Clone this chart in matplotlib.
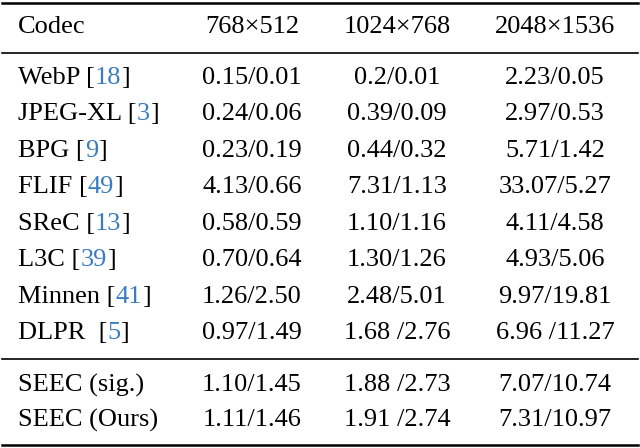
import matplotlib
matplotlib.use("Agg")
import matplotlib.pyplot as plt

header = ["Codec", "768\u00d7512", "1024\u00d7768", "2048\u00d71536"]
codecs = ["WebP", "JPEG-XL", "BPG", "FLIF", "SReC", "L3C", "Minnen", "DLPR ", "SEEC (sig.)", "SEEC (Ours)"]
refs = ["18", "3", "9", "49", "13", "39", "41", "5", None, None]
col_768 = ["0.15/0.01", "0.24/0.06", "0.23/0.19", "4.13/0.66", "0.58/0.59", "0.70/0.64",
           "1.26/2.50", "0.97/1.49", "1.10/1.45", "1.11/1.46"]
col_1024 = ["0.2/0.01", "0.39/0.09", "0.44/0.32", "7.31/1.13", "1.10/1.16", "1.30/1.26",
            "2.48/5.01", "1.68 /2.76", "1.88 /2.73", "1.91 /2.74"]
col_2048 = ["2.23/0.05", "2.97/0.53", "5.71/1.42", "33.07/5.27", "4.11/4.58", "4.93/5.06",
            "9.97/19.81", "6.96 /11.27", "7.07/10.74", "7.31/10.97"]

W, H = 640, 448
fig = plt.figure(figsize=(W / 100, H / 100), dpi=100)
ax = fig.add_axes([0, 0, 1, 1])
ax.set_xlim(0, W)
ax.set_ylim(H, 0)
ax.axis("off")

font = dict(family="Liberation Serif", fontsize=19, va="center")
blue = "#3a7cc0"
col_x = [252, 397, 555]
row_y = [78, 114, 151, 187, 224, 260, 297, 333, 385, 420]

for y, lw in [(3, 1.8), (53, 1.2), (359, 1.2), (445, 1.8)]:
    ax.plot([2, 638], [y, y], color="black", lw=lw)

ax.text(18, 27, header[0], ha="left", **font)
for x, h in zip(col_x, header[1:]):
    ax.text(x, 27, h, ha="center", **font)

fig.canvas.draw()
renderer = fig.canvas.get_renderer()
inv = ax.transData.inverted()


def right_edge(t):
    bb = t.get_window_extent(renderer)
    return inv.transform((bb.x1, bb.y0))[0]


for i, y in enumerate(row_y):
    if refs[i] is None:
        ax.text(18, y, codecs[i], ha="left", **font)
    else:
        t = ax.text(18, y, codecs[i] + " [", ha="left", **font)
        t2 = ax.text(right_edge(t), y, refs[i], ha="left", color=blue, **font)
        ax.text(right_edge(t2), y, "]", ha="left", **font)
    for x, col in zip(col_x, [col_768, col_1024, col_2048]):
        ax.text(x, y, col[i], ha="center", **font)

fig.savefig("out.png", dpi=100)
